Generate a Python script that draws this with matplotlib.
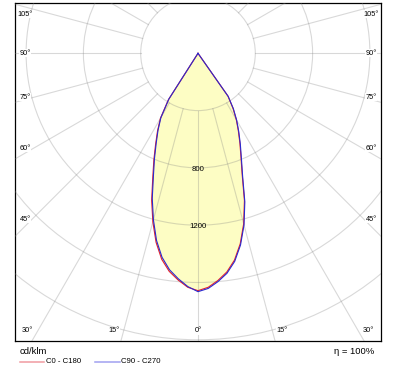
import numpy as np
import matplotlib
matplotlib.use('Agg')
import matplotlib.pyplot as plt
from matplotlib.patches import Circle
from matplotlib.lines import Line2D

plt.rcParams['font.family'] = ['Liberation Sans', 'DejaVu Sans']

# 光强分布 (cd/klm)
gamma = [0, 2.5, 5, 7.5, 10, 12.5, 15, 17.5, 20, 22.5, 25, 27.5, 30, 32.5, 35, 37.5]
c0 = [1657, 1635, 1592, 1540, 1466, 1362, 1232, 1078, 902, 784, 692, 610, 535, 455, 365, 0]
c180 = [1657, 1635, 1589, 1536, 1460, 1352, 1218, 1076, 923, 805, 700, 612, 525, 385, 0, 0]
c90 = [1664, 1643, 1600, 1549, 1475, 1371, 1241, 1087, 910, 791, 699, 616, 540, 460, 368, 0]
c270 = [1664, 1630, 1580, 1524, 1446, 1338, 1203, 1062, 910, 794, 690, 604, 518, 378, 0, 0]

rings = [400, 800, 1200, 1600, 2000, 2400]
ring_labels = [800, 1200]
spokes = [0, 15, 30, 45, 60, 75, 90, 105, 120, 135, 150, 165, 180]
angle_labels = [105, 90, 75, 60, 45, 30, 15, 0]

# 画布 (像素)
W, H = 399, 373
L, R, T, B = 15, 381, 3, 341
CX, CY = 198, 53.3
S = 57.3 / 400  # px per cd/klm


def to_data(px, py):
    return (px - CX) / S, (CY - py) / S


fig = plt.figure(figsize=(W / 100, H / 100), dpi=100)
ax = fig.add_axes([L / W, 1 - B / H, (R - L) / W, (B - T) / H])
x0, y1 = to_data(L, T)
x1, y0 = to_data(R, B)
ax.set_xlim(x0, x1)
ax.set_ylim(y0, y1)
ax.set_xticks([])
ax.set_yticks([])
for sp in ax.spines.values():
    sp.set_linewidth(0.9)
    sp.set_color('black')

grid_kw = dict(color='#808080', alpha=0.3, lw=0.8, zorder=3)
for r in rings:
    ax.add_patch(Circle((0, 0), r, fill=False, **grid_kw))
for a in spokes:
    t = np.radians(a)
    for side in ([1] if a in (0, 180) else [1, -1]):
        ax.plot([side * 400 * np.sin(t), side * 4000 * np.sin(t)],
                [-400 * np.cos(t), -4000 * np.cos(t)], **grid_kw)


def outline(left, right):
    g = np.radians(gamma)
    left = np.array(left, float)
    right = np.array(right, float)
    xl, yl = -left * np.sin(g), -left * np.cos(g)
    xr, yr = right * np.sin(g), -right * np.cos(g)
    return np.concatenate([xl[::-1], xr[1:]]), np.concatenate([yl[::-1], yr[1:]])


xa, ya = outline(c180, c0)
xb, yb = outline(c270, c90)
ax.fill(xa, ya, color='#fdfdc4', zorder=1, lw=0)
ax.plot(xa, ya, color='#e8202a', lw=0.8, zorder=4)
ax.plot(xb, yb, color='#2a2ad0', lw=0.8, zorder=4)

for v in ring_labels:
    ax.text(0, -v * 1.0 - 10, str(v), ha='center', va='center', fontsize=5.6, zorder=5)

# 角度标签
for a in angle_labels:
    t = np.radians(a)
    for side in ([1] if a == 0 else [-1, 1]):
        sx, cy = np.sin(t), np.cos(t)
        tx = 173 / sx if sx > 1e-9 else np.inf
        ty = (331 - CY) / cy if cy > 1e-9 else np.inf
        if tx < ty:
            px = CX + side * 173
            py = CY + tx * cy
            py -= 10 * cy
            py = max(py, 14)
        else:
            px = CX + side * ty * sx
            py = 331
            if a > 0:
                px += side * 10
        dx, dy = to_data(px, py)
        ax.text(dx, dy, f'{a}°', ha='center', va='center', fontsize=5.3, zorder=6,
                bbox=dict(facecolor='white', edgecolor='none', pad=0.3))

# 图例
fig.text(20 / W, 1 - 351 / H, 'cd/klm', ha='left', va='center', fontsize=6.8)
ly = 1 - 361.5 / H
fig.add_artist(Line2D([20 / W, 44 / W], [ly, ly], color='#f09aa0', lw=1.1))
fig.text(45.5 / W, ly, 'C0 - C180', ha='left', va='center', fontsize=5.6)
fig.add_artist(Line2D([95 / W, 120 / W], [ly, ly], color='#a0a0f0', lw=1.1))
fig.text(121 / W, ly, 'C90 - C270', ha='left', va='center', fontsize=5.6)
fig.text(374 / W, 1 - 351 / H, 'η = 100%', ha='right', va='center', fontsize=6.8)

fig.savefig('out.png', dpi=100)
plt.close(fig)
